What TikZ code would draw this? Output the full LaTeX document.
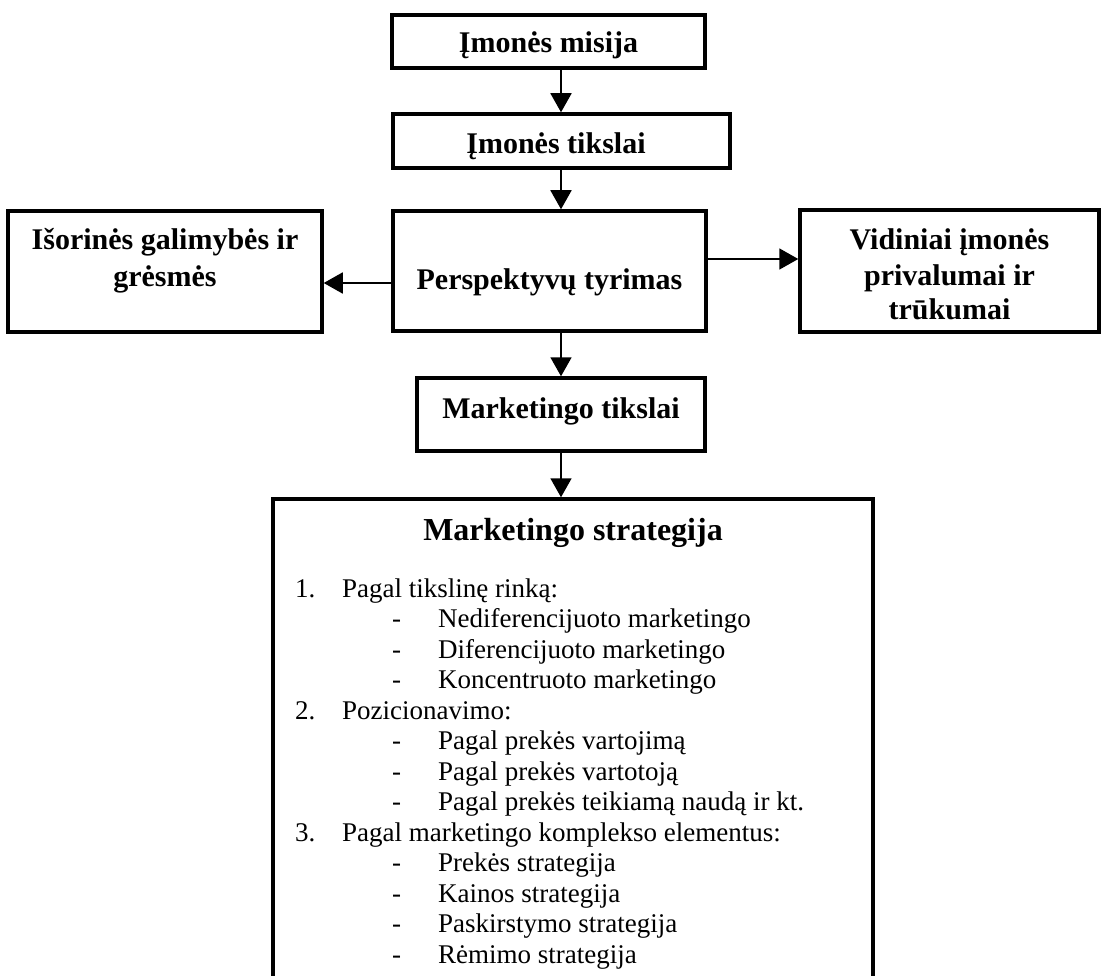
\documentclass[tikz,border=0pt]{standalone}
\usepackage{fontspec}
\setmainfont{Liberation Serif}
\usetikzlibrary{arrows.meta}
\begin{document}
\begin{tikzpicture}[x=1pt,y=-1pt,
  box/.style={draw, line width=3.5pt, rectangle, inner sep=0pt},
  boxtext/.style={anchor=base, inner sep=0pt, font=\fontsize{30}{36}\selectfont\bfseries},
  titletext/.style={anchor=base, inner sep=0pt, font=\fontsize{32}{38}\selectfont\bfseries},
  listtext/.style={anchor=base west, inner sep=0pt, font=\fontsize{27}{30}\selectfont},
  flow/.style={line width=1.8pt, -{Triangle[width=21pt,length=19pt]}}
]
\useasboundingbox (0,0) rectangle (1102,976);
\clip (0,0) rectangle (1102,976);

% boxes
\node[box, minimum width=313pt, minimum height=53pt]  (b1) at (548.5,41.5) {};
\node[box, minimum width=337pt, minimum height=54pt]  (b2) at (561.5,141) {};
\node[box, minimum width=313pt, minimum height=120pt] (b3) at (549.5,271) {};
\node[box, minimum width=314pt, minimum height=121pt] (bl) at (165,271.5) {};
\node[box, minimum width=299pt, minimum height=122pt] (br) at (949.5,271) {};
\node[box, minimum width=288pt, minimum height=73pt]  (b4) at (561,414.5) {};
\node[box, minimum width=600pt, minimum height=520pt] (b5) at (573,759) {};

% box labels
\node[boxtext] (t1) at (548.5,53) {Įmonės misija};
\node[boxtext] (t2) at (556,154) {Įmonės tikslai};
\node[boxtext] (t3) at (549.5,289) {Perspektyvų tyrimas};
\node[boxtext] (tl1) at (165,250) {Išorinės galimybės ir};
\node[boxtext] (tl2) at (165,287) {grėsmės};
\node[boxtext] (tr1) at (949.5,250) {Vidiniai įmonės};
\node[boxtext] (tr2) at (949.5,285) {privalumai ir};
\node[boxtext] (tr3) at (949.5,319) {trūkumai};
\node[boxtext] (t4) at (561,418) {Marketingo tikslai};
\node[titletext] (t5) at (573,540) {Marketingo strategija};

% strategy list
\foreach \m/\mx/\tx/\t [count=\i from 0] in {
  1./295/342/{Pagal tikslinę rinką:},
  -/392/438/{Nediferencijuoto marketingo},
  -/392/438/{Diferencijuoto marketingo},
  -/392/438/{Koncentruoto marketingo},
  2./295/342/{Pozicionavimo:},
  -/392/438/{Pagal prekės vartojimą},
  -/392/438/{Pagal prekės vartotoją},
  -/392/438/{Pagal prekės teikiamą naudą ir kt.},
  3./295/342/{Pagal marketingo komplekso elementus:},
  -/392/438/{Prekės strategija},
  -/392/438/{Kainos strategija},
  -/392/438/{Paskirstymo strategija},
  -/392/438/{Rėmimo strategija}}
{
  \node[listtext] (mark\i) at (\mx,597+30.5*\i) {\m};
  \node[listtext] (item\i) at (\tx,597+30.5*\i) {\t};
}

% connectors
\coordinate (axis) at (561,0);
\coordinate (ry) at (0,259);
\coordinate (ly) at (0,283);
\draw[flow] (b1.south -| axis) -- (b2.north -| axis);
\draw[flow] (b2.south -| axis) -- (b3.north -| axis);
\draw[flow] (b3.east |- ry) -- (br.west |- ry);
\draw[flow] (b3.west |- ly) -- (bl.east |- ly);
\draw[flow] (b3.south -| axis) -- (b4.north -| axis);
\draw[flow] (b4.south -| axis) -- (b5.north -| axis);
\end{tikzpicture}
\end{document}
